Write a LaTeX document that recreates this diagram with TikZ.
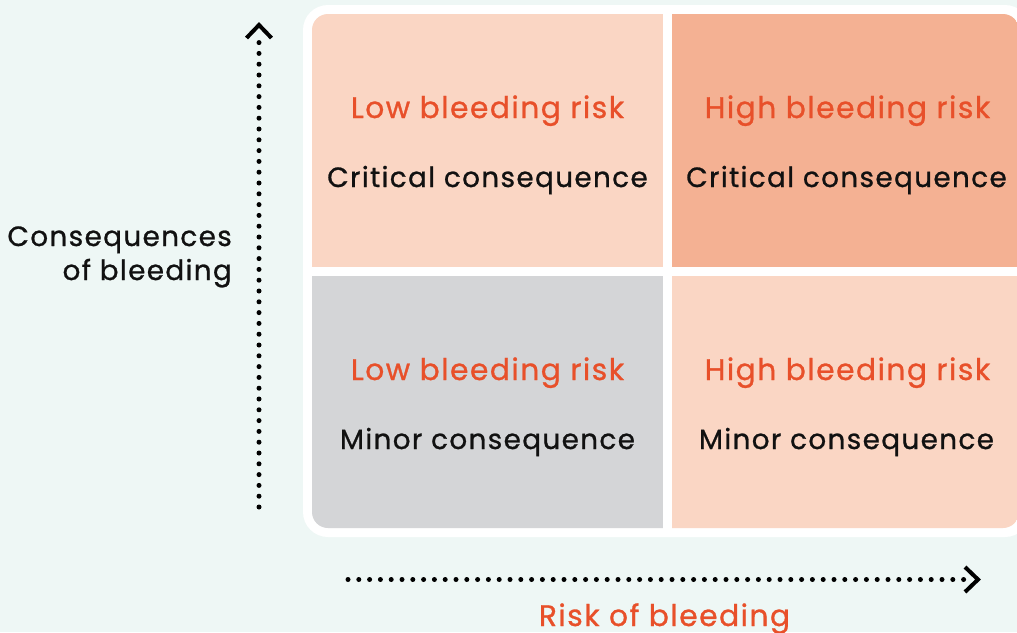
\documentclass[tikz,border=0pt]{standalone}
\usepackage{fontspec}
\setmainfont{Poppins}[FakeBold=0.9, LetterSpace=5]
\usetikzlibrary{calc}
\definecolor{bgcol}{HTML}{EEF7F5}
\definecolor{peachlt}{HTML}{FAD6C4}
\definecolor{peachdk}{HTML}{F4B193}
\definecolor{greycell}{HTML}{D4D5D7}
\definecolor{orangetxt}{HTML}{E8502A}
\definecolor{blacktxt}{HTML}{111111}
\tikzset{
  cell/.style={draw=none, minimum width=351pt, minimum height=253pt, inner sep=0pt},
  risktxt/.style={anchor=base, text=orangetxt, font=\fontsize{29.75}{32}\selectfont, inner sep=0pt},
  conseqtxt/.style={anchor=base, text=blacktxt, font=\fontsize{27.8}{32}\selectfont, inner sep=0pt},
  axislabel/.style={text=blacktxt, font=\fontsize{27.8}{32}\selectfont, inner sep=0pt},
  dotline/.style={line width=5pt, line cap=round, dash pattern=on 0pt off 10.8pt, draw=black},
  chevron/.style={line width=4pt, draw=black, line cap=butt, line join=miter},
}
\begin{document}
\begin{tikzpicture}[x=1pt,y=-1pt]
\useasboundingbox (0,0) rectangle (1017,632);
\fill[bgcol] (0,0) rectangle (1017,632);
% white board
\fill[white, rounded corners=25pt] (303,5) rectangle (1030,537);
% cells
\begin{scope}
\clip[rounded corners=16pt] (312,14) rectangle (1019,528);
\node[cell, fill=peachlt] (tl) at (487.5,140.5) {};
\node[cell, fill=peachdk, minimum width=347pt] (tr) at (845.5,140.5) {};
\node[cell, fill=greycell] (bl) at (487.5,402) {};
\node[cell, fill=peachlt, minimum width=347pt] (br) at (845.5,402) {};
\end{scope}
% cell texts
\node[risktxt] (tlr) at (487.5,118) {Low bleeding risk};
\node[conseqtxt] (tlc) at (487.5,187) {Critical consequence};
\node[risktxt] (trr) at (847.5,118) {High bleeding risk};
\node[conseqtxt] (trc) at (846.5,187) {Critical consequence};
\node[risktxt] (blr) at (487.5,380) {Low bleeding risk};
\node[conseqtxt] (blc) at (487.5,449) {Minor consequence};
\node[risktxt] (brr) at (847.5,380) {High bleeding risk};
\node[conseqtxt] (brc) at (846.5,449) {Minor consequence};
% axis labels
\node[axislabel, anchor=base east] (yl1) at (232,246) {Consequences};
\node[axislabel, anchor=base east] (yl2) at (232,280) {of bleeding};
\node[risktxt, anchor=base] (xl) at (664.5,626) {Risk of bleeding};
% axes
\coordinate (ystart) at (259,507);
\coordinate (yend) at (259,37);
\coordinate (ytip) at (259,25);
\coordinate (xstart) at (348,579.5);
\coordinate (xend) at (970,579.5);
\coordinate (xtip) at (978,579.5);
\draw[dotline] (ystart) -- (yend);
\draw[dotline] (xstart) -- (xend);
\draw[chevron] ($(ytip)+(-12.5,13)$) -- (ytip) -- ($(ytip)+(12.5,13)$);
\draw[chevron] ($(xtip)+(-13,-12.5)$) -- (xtip) -- ($(xtip)+(-13,12.5)$);
\end{tikzpicture}
\end{document}
